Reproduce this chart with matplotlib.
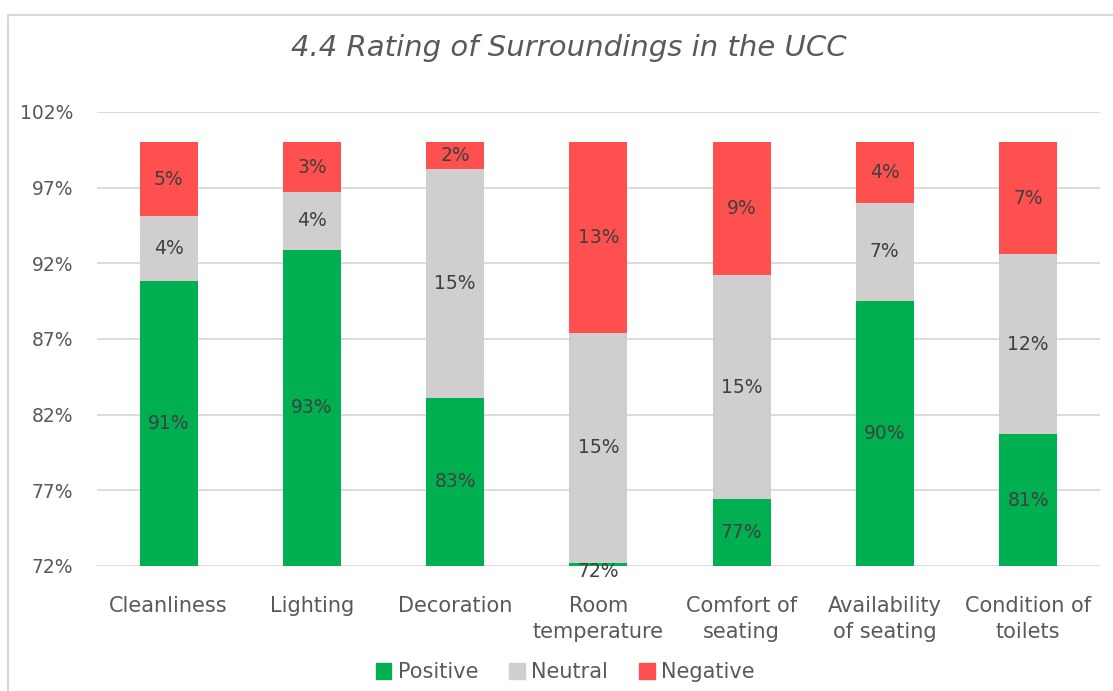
import numpy as np
import matplotlib
matplotlib.use('Agg')
import matplotlib.pyplot as plt
from matplotlib.patches import Patch
from matplotlib.lines import Line2D

# data (percent)
categories = ['Cleanliness', 'Lighting', 'Decoration', 'Room\ntemperature',
              'Comfort of\nseating', 'Availability\nof seating', 'Condition of\ntoilets']
positive = [90.8, 92.9, 83.1, 72.2, 76.4, 89.5, 80.7]
neutral = [4.3, 3.8, 15.1, 15.2, 14.8, 6.5, 11.9]
negative = [4.9, 3.3, 1.8, 12.6, 8.8, 4.0, 7.4]
pos_labels = ['91%', '93%', '83%', '72%', '77%', '90%', '81%']
neu_labels = ['4%', '4%', '15%', '15%', '15%', '7%', '12%']
neg_labels = ['5%', '3%', '2%', '13%', '9%', '4%', '7%']
series_names = ['Positive', 'Neutral', 'Negative']

GREEN, GRAY, RED = '#00B050', '#D0CECE', '#FF5050'
TXT = '#404040'
TICK = '#595959'
YMIN, YMAX = 72, 102

fig = plt.figure(figsize=(11.13, 6.91), dpi=100)
ax = fig.add_axes([0.0872, 0.181, 0.9008, 0.657])

x = np.arange(len(categories))
w = 0.405
pos = np.array(positive)
neu = np.array(neutral)
neg = np.array(negative)

ax.bar(x, pos, w, color=GREEN, zorder=3)
ax.bar(x, neu, w, bottom=pos, color=GRAY, zorder=3)
ax.bar(x, neg, w, bottom=pos + neu, color=RED, zorder=3)

def put_labels(bottoms, heights, labels):
    for xi, b, h, lab in zip(x, bottoms, heights, labels):
        lo, hi = max(b, YMIN), min(b + h, YMAX)
        yc = (lo + hi) / 2
        if hi - lo < 1:
            # tiny visible sliver: Excel drops the label just under it
            yc = lo - 0.35
        ax.text(xi, yc, lab, ha='center', va='center', fontsize=13.5,
                color=TXT, zorder=4, clip_on=False)

put_labels(np.zeros_like(pos), pos, pos_labels)
put_labels(pos, neu, neu_labels)
put_labels(pos + neu, neg, neg_labels)

ax.set_xlim(-0.5, len(categories) - 0.5)
ax.set_ylim(YMIN, YMAX)
ax.set_yticks(range(YMIN, YMAX + 1, 5))
ax.set_yticklabels([f'{v}%' for v in range(YMIN, YMAX + 1, 5)])
ax.set_xticks(x)
ax.set_xticklabels(categories, linespacing=1.35)
ax.tick_params(axis='both', length=0, colors=TICK)
ax.tick_params(axis='x', pad=22, labelsize=15)
ax.tick_params(axis='y', pad=17, labelsize=13.5)
for s in ax.spines.values():
    s.set_visible(False)
ax.grid(axis='y', color='#D9D9D9', linewidth=1.3, zorder=0)
ax.set_axisbelow(True)

fig.text(0.511, 0.931, '4.4 Rating of Surroundings in the UCC', ha='center', va='center',
         fontsize=21, style='italic', color=TICK)

handles = [Patch(color=c) for c in (GREEN, GRAY, RED)]
fig.legend(handles, series_names, loc='center', bbox_to_anchor=(0.508, 0.027), ncol=3,
           frameon=False, fontsize=15, handlelength=0.75, handleheight=0.75,
           handletextpad=0.3, columnspacing=1.5, labelcolor=TICK)

# chart frame (left and top edges visible in the crop)
fig.add_artist(Line2D([0.007, 0.007], [0.0, 0.978], color='#D9D9D9', lw=1.5, transform=fig.transFigure))
fig.add_artist(Line2D([0.007, 1.0], [0.978, 0.978], color='#D9D9D9', lw=1.5, transform=fig.transFigure))

fig.savefig('out.png', dpi=100)
